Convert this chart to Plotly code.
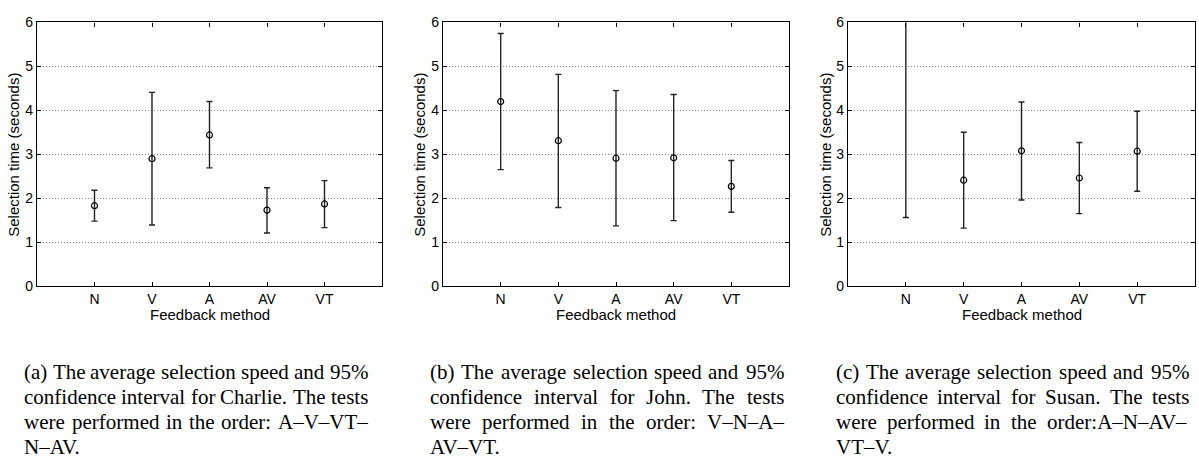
import plotly.graph_objects as go

categories = ["N", "V", "A", "AV", "VT"]
x_pos = [1, 2, 3, 4, 5]

charlie_mean = [1.83, 2.90, 3.44, 1.73, 1.87]
charlie_low = [1.48, 1.39, 2.69, 1.21, 1.33]
charlie_high = [2.18, 4.41, 4.20, 2.24, 2.40]

john_mean = [4.20, 3.31, 2.91, 2.92, 2.27]
john_low = [2.65, 1.79, 1.37, 1.49, 1.68]
john_high = [5.75, 4.82, 4.45, 4.36, 2.86]

susan_mean = [6.80, 2.41, 3.08, 2.46, 3.07]
susan_low = [1.56, 1.32, 1.96, 1.65, 2.16]
susan_high = [12.04, 3.50, 4.19, 3.27, 3.98]

captions = [
    ["(a) The average selection speed and 95%",
     "confidence interval for Charlie. The tests",
     "were performed in the order: A\u2013V\u2013VT\u2013",
     "N\u2013AV."],
    ["(b) The average selection speed and 95%",
     "confidence interval for John. The tests",
     "were performed in the order: V\u2013N\u2013A\u2013",
     "AV\u2013VT."],
    ["(c) The average selection speed and 95%",
     "confidence interval for Susan. The tests",
     "were performed in the order:A\u2013N\u2013AV\u2013",
     "VT\u2013V."],
]

# Times-compatible advance widths (per 1000 em) used to justify caption lines
TIMES_W = {
    " ": 250, "%": 833, "(": 333, ")": 333, ".": 250, ":": 278, "\u2013": 500,
    "A": 722, "C": 667, "J": 389, "N": 722, "S": 556, "T": 611, "V": 722,
    "a": 444, "b": 500, "c": 444, "d": 500, "e": 444, "f": 333, "g": 500,
    "h": 500, "i": 278, "j": 278, "k": 500, "l": 278, "m": 778, "n": 500,
    "o": 500, "p": 500, "q": 500, "r": 333, "s": 389, "t": 278, "u": 500,
    "v": 500, "w": 722, "x": 500, "y": 500, "z": 444,
}
for d in "0123456789":
    TIMES_W[d] = 500


def text_width(s, size):
    return sum(TIMES_W.get(ch, 500) for ch in s) * size / 1000.0


W, H = 1199, 466
# plot left, plot right, y-title x, caption left, caption right
panels = [
    (charlie_mean, charlie_low, charlie_high, 37, 382, 14, 23, 367),
    (john_mean, john_low, john_high, 443, 789, 420, 429, 783),
    (susan_mean, susan_low, susan_high, 848, 1195, 826, 835, 1188),
]
y_top, y_bot = 15, 288
cap_size = 21
cap_lines_y = [377, 403, 429, 455]

fig = go.Figure()
annotations = []
sans = "Liberation Sans, Arial, Helvetica, sans-serif"
serif = "Liberation Serif, Times New Roman, serif"

for i, (m, lo, hi, x0, x1, ytx, capx0, capx1) in enumerate(panels):
    suffix = "" if i == 0 else str(i + 1)
    fig.add_trace(go.Scatter(
        x=x_pos, y=m, mode="markers",
        marker=dict(symbol="circle-open", size=6, color="black", line=dict(width=1.2)),
        error_y=dict(type="data", symmetric=False,
                     array=[h - v for h, v in zip(hi, m)],
                     arrayminus=[v - l for v, l in zip(m, lo)],
                     color="#222222", thickness=1.4, width=3),
        xaxis="x" + suffix, yaxis="y" + suffix, showlegend=False,
    ))
    xd = [x0 / W, x1 / W]
    yd = [(H - y_bot) / H, (H - y_top) / H]
    fig.layout["xaxis" + suffix] = dict(
        domain=xd, range=[0, 6], tickvals=x_pos, ticktext=categories,
        showgrid=False, zeroline=False, showline=True, linecolor="black", linewidth=1.3,
        mirror="ticks", ticks="inside", ticklen=4, tickcolor="black",
        tickfont=dict(family=sans, size=14, color="black"), anchor="y" + suffix,
        fixedrange=True,
    )
    fig.layout["yaxis" + suffix] = dict(
        domain=yd, range=[0, 6], tickvals=[0, 1, 2, 3, 4, 5, 6],
        showgrid=True, gridcolor="#8a8a8a", griddash="1px,2px", gridwidth=1,
        zeroline=False, showline=True, linecolor="black", linewidth=1.3,
        mirror="ticks", ticks="inside", ticklen=4, tickcolor="black",
        tickfont=dict(family=sans, size=14, color="black"), anchor="x" + suffix,
        fixedrange=True,
    )
    annotations.append(dict(
        text="Selection time (seconds)", x=ytx / W, y=(H - 152) / H,
        xref="paper", yref="paper", showarrow=False, textangle=-90,
        xanchor="center", yanchor="middle",
        font=dict(family=sans, size=15, color="black"),
    ))
    annotations.append(dict(
        text="Feedback method", x=(x0 + x1) / 2 / W, y=(H - 317) / H,
        xref="paper", yref="paper", showarrow=False,
        xanchor="center", yanchor="middle", borderpad=0,
        font=dict(family=sans, size=15, color="black"),
    ))
    lines = captions[i]
    for j, line in enumerate(lines):
        words = line.split(" ")
        widths = [text_width(w_, cap_size) for w_ in words]
        if j < len(lines) - 1 and len(words) > 1:
            gap = (capx1 - capx0 - sum(widths)) / (len(words) - 1)
        else:
            gap = text_width(" ", cap_size)
        xcur = capx0
        for w_, ww in zip(words, widths):
            annotations.append(dict(
                text=w_, x=xcur / W, y=(H - cap_lines_y[j]) / H,
                xref="paper", yref="paper", showarrow=False,
                xanchor="left", yanchor="middle", borderpad=0,
                font=dict(family=serif, size=cap_size, color="black"),
            ))
            xcur += ww + gap

fig.update_layout(
    width=W, height=H, margin=dict(l=0, r=0, t=0, b=0),
    paper_bgcolor="white", plot_bgcolor="white",
    annotations=annotations,
)

fig.write_html("out.html")
